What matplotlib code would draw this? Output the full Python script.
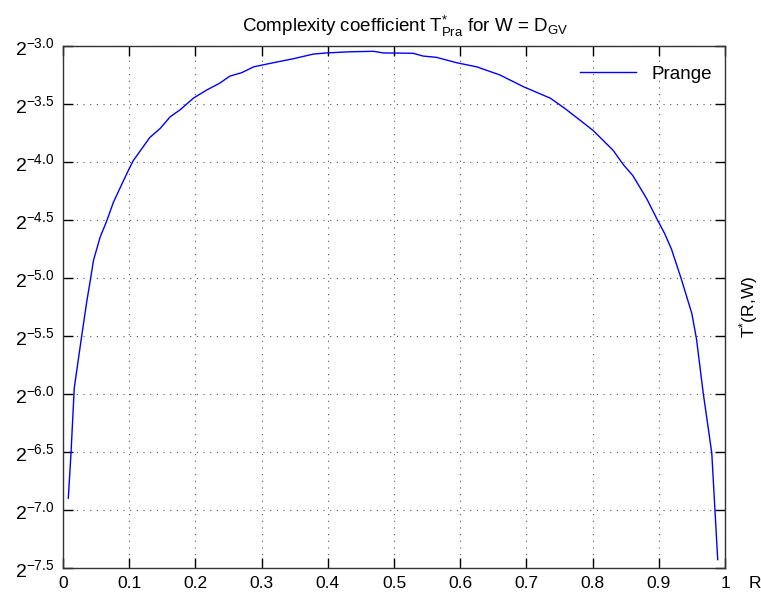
import numpy as np
import matplotlib
matplotlib.use('Agg')
import matplotlib.pyplot as plt

# Liberation Sans stands in for Helvetica
plt.rcParams['font.family'] = ['Liberation Sans', 'DejaVu Sans']
plt.rcParams['mathtext.fontset'] = 'custom'
plt.rcParams['mathtext.rm'] = 'Liberation Sans'
plt.rcParams['mathtext.it'] = 'Liberation Sans'
plt.rcParams['mathtext.bf'] = 'Liberation Sans:bold'

# rate R and log2 of the complexity coefficient
rate = [0.008, 0.012, 0.017, 0.028, 0.036, 0.041, 0.046, 0.056, 0.066, 0.076,
        0.089, 0.099, 0.106, 0.121, 0.131, 0.147, 0.162, 0.177, 0.197, 0.217,
        0.237, 0.252, 0.270, 0.288, 0.313, 0.348, 0.378, 0.398, 0.434, 0.469,
        0.484, 0.529, 0.544, 0.564, 0.595, 0.625, 0.660, 0.695, 0.736, 0.756,
        0.781, 0.801, 0.831, 0.846, 0.861, 0.882, 0.897, 0.909, 0.919, 0.934,
        0.950, 0.957, 0.967, 0.980, 0.984, 0.989]
log2_t = [-6.90, -6.52, -5.95, -5.51, -5.20, -5.03, -4.85, -4.65, -4.51, -4.35,
          -4.19, -4.07, -3.99, -3.87, -3.79, -3.71, -3.61, -3.55, -3.45, -3.38,
          -3.32, -3.26, -3.23, -3.18, -3.15, -3.11, -3.07, -3.06, -3.05, -3.046,
          -3.06, -3.063, -3.087, -3.098, -3.145, -3.18, -3.25, -3.35, -3.45, -3.53,
          -3.64, -3.73, -3.90, -4.02, -4.12, -4.32, -4.49, -4.62, -4.75, -5.01,
          -5.31, -5.53, -5.99, -6.51, -6.92, -7.43]

x_ticks = [0, 0.1, 0.2, 0.3, 0.4, 0.5, 0.6, 0.7, 0.8, 0.9, 1]
x_labels = ['0', '0.1', '0.2', '0.3', '0.4', '0.5', '0.6', '0.7', '0.8', '0.9', '1']
y_ticks = [-7.5, -7.0, -6.5, -6.0, -5.5, -5.0, -4.5, -4.0, -3.5, -3.0]

fig = plt.figure(figsize=(7.61, 6.01), dpi=100)
ax = fig.add_axes([0.0828, 0.0554, 0.8699, 0.8681])

ax.plot(rate, log2_t, color='#0000ff', linewidth=1.0, label='Prange')

ax.set_xlim(0, 1)
ax.set_ylim(-7.5, -3.0)
ax.set_xticks(x_ticks)
ax.set_xticklabels(x_labels, fontsize=12.5)
ax.set_yticks(y_ticks)
ax.set_yticklabels([r'$2^{%.1f}$' % v for v in y_ticks], fontsize=14)

ax.tick_params(direction='in', length=7, width=1, top=True, right=True, pad=6)
ax.grid(True, linestyle=(0, (1, 5)), color='#555555', linewidth=0.8)
for s in ax.spines.values():
    s.set_linewidth(1.0)
    s.set_color('#333333')

ax.set_title(r'Complexity coefficient T$^{*}_{\mathrm{Pra}}$ for W = D$_{\mathrm{GV}}$',
             fontsize=13.5, pad=10, x=0.516)

ax.set_xlabel('R', fontsize=12.5)
ax.xaxis.set_label_coords(1.045, -0.016)
ax.set_ylabel(r'T$^{*}$(R,W)', fontsize=12.5)
ax.yaxis.set_label_position('right')
ax.yaxis.label.set_verticalalignment('center')
ax.yaxis.set_label_coords(1.035, 0.5)

ax.legend(loc='upper right', bbox_to_anchor=(1.0, 0.987), frameon=False,
          fontsize=13.5, handlelength=3.0, borderaxespad=0.3)

fig.savefig('out.png', dpi=100)
